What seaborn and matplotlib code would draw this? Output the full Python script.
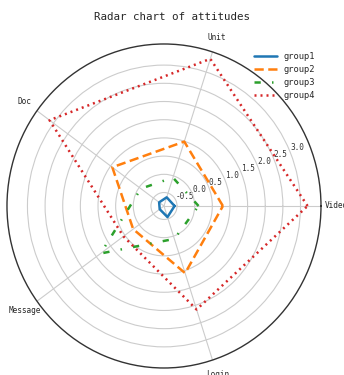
import numpy as np
import pandas as pd
import matplotlib
matplotlib.use("Agg")
import matplotlib.pyplot as plt
import seaborn as sns

# Attitude scores per category for each group
categories = ["Video", "Unit", "Doc", "Message", "Login"]
groups = ["group1", "group2", "group3", "group4"]
group1 = [-0.57, -0.62, -0.70, -0.72, -0.55]
group2 = [0.80, 0.99, 0.94, 0.21, 1.07]
group3 = [0.11, -0.05, -0.06, 1.35, 0.08]
group4 = [3.20, 3.38, 3.14, 0.55, 2.12]
radial_ticks = [-0.5, 0.0, 0.5, 1.0, 1.5, 2.0, 2.5, 3.0]

sns.set_style("whitegrid", {"axes.edgecolor": "0.2", "grid.color": "0.8"})
plt.rcParams["font.family"] = ["DejaVu Sans Mono"]
plt.rcParams["axes.unicode_minus"] = False

angles = np.linspace(0, 2 * np.pi, len(categories), endpoint=False)
closed = np.concatenate([angles, angles[:1]])

rows = []
for name, vals in zip(groups, [group1, group2, group3, group4]):
    for a, v in zip(closed, list(vals) + [vals[0]]):
        rows.append({"group": name, "angle": a, "score": v})
df = pd.DataFrame(rows)

fig = plt.figure(figsize=(3.44, 3.75), dpi=100)
ax = fig.add_axes([0.0203, 0.0187, 0.9128, 0.864], projection="polar")
ax.set_aspect("auto")

styles = {
    "group1": "-",
    "group2": (0, (3.7, 1.8)),
    "group3": (0, (2.5, 4.5, 0.6, 4.5)),
    "group4": (0, (0.8, 1.6)),
}
palette = sns.color_palette("tab10", 4)
for name, color in zip(groups, palette):
    sub = df[df["group"] == name]
    sns.lineplot(data=sub, x="angle", y="score", ax=ax, color=color,
                 linestyle=styles[name], linewidth=1.8, label=name,
                 sort=False, estimator=None)

ax.set_xlabel("")
ax.set_ylabel("")
ax.set_xticks(angles)
ax.set_xticklabels(categories, fontsize=5.6)
ax.tick_params(axis="x", pad=0.5)
ax.set_yticks(radial_ticks)
ax.set_yticklabels([f"{t:.1f}" for t in radial_ticks], fontsize=5.6, color="0.2")
ax.set_ylim(-0.87, 3.58)
ax.set_rlabel_position(22.5)
ax.grid(True, color="0.8", linewidth=0.8)
ax.spines["polar"].set_linewidth(1.0)

fig.text(0.5, 1 - 17 / 375, "Radar chart of attitudes", ha="center", va="center",
         fontsize=7.8)

ax.legend(loc="upper right", bbox_to_anchor=(0.94, 0.883),
          bbox_transform=fig.transFigure, frameon=False, fontsize=6.3,
          handlelength=2.6, labelspacing=0.45)

fig.savefig("out.png", dpi=100)
